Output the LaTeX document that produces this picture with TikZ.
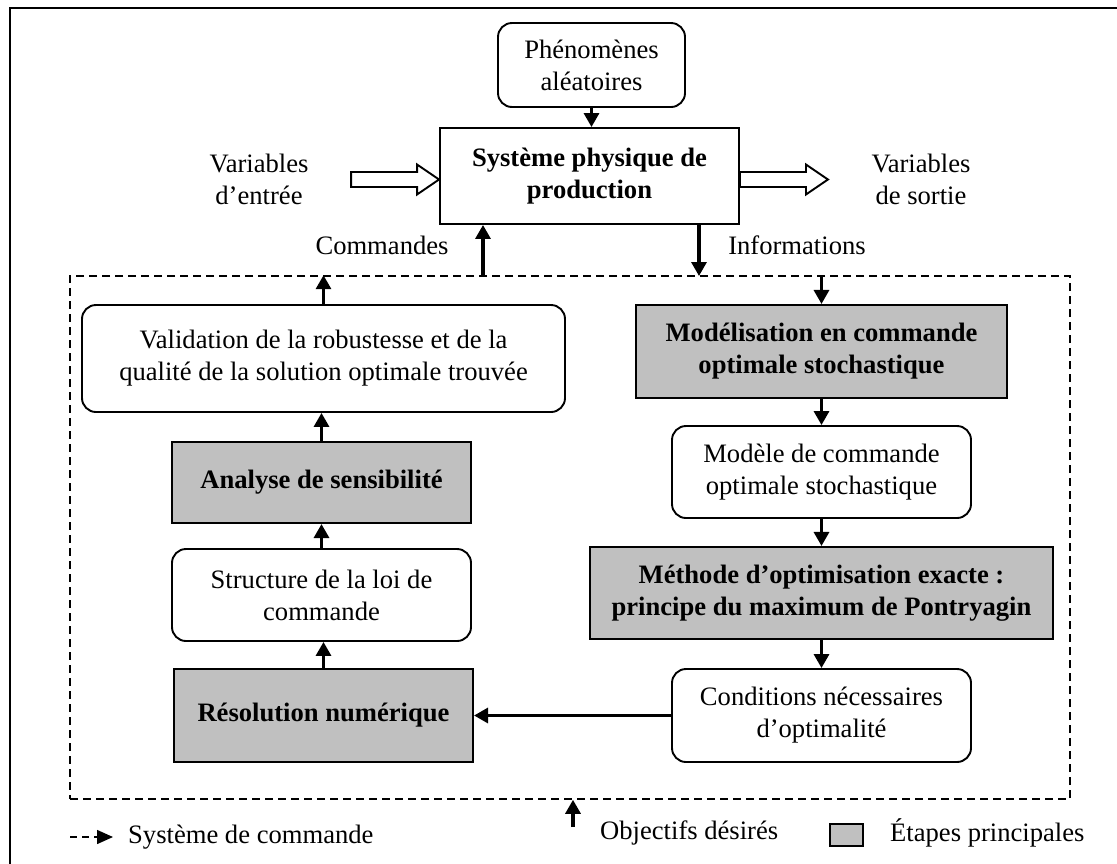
\documentclass[tikz,border=0pt]{standalone}
\usepackage{fontspec}
\setmainfont{Liberation Serif}
\usetikzlibrary{arrows.meta,calc}
\definecolor{stepgray}{RGB}{192,192,192}
\begin{document}
\begin{tikzpicture}[x=1pt,y=-1pt,
  every node/.style={font=\fontsize{26.6}{32}\selectfont, align=center, inner sep=0pt},
  box/.style={draw, line width=1.9pt},
  roundbox/.style={box, rounded corners=14pt},
  mainstep/.style={box, fill=stepgray, line width=2.1pt, font=\fontsize{26.6}{32}\selectfont\bfseries},
  flow/.style={line width=3.2pt, -{Triangle[length=14pt,width=15pt]}},
  hollow/.style={draw, line width=1.9pt, fill=white, line join=miter},
  ctrl/.style={draw, line width=1.6pt, dash pattern=on 8pt off 5pt},
]
\useasboundingbox (0,0) rectangle (1117,863);

% outer frame
\draw[line width=2pt] (10,880) -- (10,8) -- (1130,8);

% physical system and its environment
\node[roundbox, minimum width=187pt, minimum height=84pt] (phen) at (591.5,65) {Phénomènes\\aléatoires};
\node[box, minimum width=299pt, minimum height=96pt, font=\fontsize{26.6}{32}\selectfont\bfseries] (sys) at (589.5,176) {Système physique de\\production};
\draw[flow] (phen.south) -- (phen.south |- sys.north);

\node (vin) at (259,179) {Variables\\d’entrée};
\node (vout) at (921,179) {Variables\\de sortie};
\coordinate (flowline) at (352,179.5);
\draw[hollow] (sys.west |- flowline) -- ++(-22,-15) -- ++(0,7.5) -- ++(-66,0) -- ++(0,15) -- ++(66,0) -- ++(0,7.5) -- cycle;
\draw[hollow] (sys.east |- flowline) ++(0,-7.5) -- ++(66,0) -- ++(0,-7.5) -- ++(22,15) -- ++(-22,15) -- ++(0,-7.5) -- ++(-66,0) -- cycle;

\node (cmdlbl) at (382,245) {Commandes};
\node (infolbl) at (797,245) {Informations};

% control system
\node[ctrl, minimum width=1000pt, minimum height=523pt] (ctrlsys) at (570,537.5) {};
\coordinate (cmdfoot) at (483,276);
\coordinate (infofoot) at (699,276);
\draw[flow] (cmdfoot) -- (cmdfoot |- sys.south);
\draw[flow] (infofoot |- sys.south) -- (infofoot);

% left column
\node[roundbox, minimum width=483pt, minimum height=107pt] (valid) at (323.5,358.5) {Validation de la robustesse et de la\\qualité de la solution optimale trouvée};
\node[mainstep, minimum width=299pt, minimum height=81pt] (anal) at (321.5,482.5) {Analyse de sensibilité};
\node[roundbox, minimum width=299pt, minimum height=92pt] (struct) at (321.5,595) {Structure de la loi de\\commande};
\node[mainstep, minimum width=299pt, minimum height=93pt] (resol) at (323.5,715.5) {Résolution numérique};

% right column
\node[mainstep, minimum width=371pt, minimum height=93pt] (model) at (821.5,351.5) {Modélisation en commande\\optimale stochastique};
\node[roundbox, minimum width=299pt, minimum height=92pt] (modele) at (821.5,472) {Modèle de commande\\optimale stochastique};
\node[mainstep, minimum width=463pt, minimum height=92pt] (method) at (821.5,593) {Méthode d’optimisation exacte :\\principe du maximum de Pontryagin};
\node[roundbox, minimum width=299pt, minimum height=93pt] (cond) at (821.5,715.5) {Conditions nécessaires\\d’optimalité};

% flow between the steps
\draw[flow] (model.north |- ctrlsys.north) -- (model.north);
\draw[flow] (model.south) -- (model.south |- modele.north);
\draw[flow] (modele.south) -- (modele.south |- method.north);
\draw[flow] (method.south) -- (method.south |- cond.north);
\draw[flow] (cond.west) -- (resol.east);
\draw[flow] (resol.north) -- (resol.north |- struct.south);
\draw[flow] (struct.north) -- (struct.north |- anal.south);
\draw[flow] (anal.north) -- (anal.north |- valid.south);
\draw[flow] (valid.north) -- (valid.north |- ctrlsys.north);

% objectives and legend
\coordinate (objfoot) at (573,827);
\draw[flow] (objfoot) -- (objfoot |- ctrlsys.south);
\node[anchor=west] (objlbl) at (600,833) {Objectifs désirés};
\node[draw, fill=stepgray, line width=2pt, minimum width=33pt, minimum height=22pt] (legbox) at (846.5,835) {};
\node[anchor=west] (steplbl) at (890,833) {Étapes principales};
\coordinate (legA) at (70,837);
\coordinate (legB) at (113,837);
\draw[line width=1.5pt, dash pattern=on 7pt off 5pt, -{Triangle[length=16pt,width=14pt]}] (legA) -- (legB);
\node[anchor=west] (ctrllbl) at (128,837) {Système de commande};
\end{tikzpicture}
\end{document}
